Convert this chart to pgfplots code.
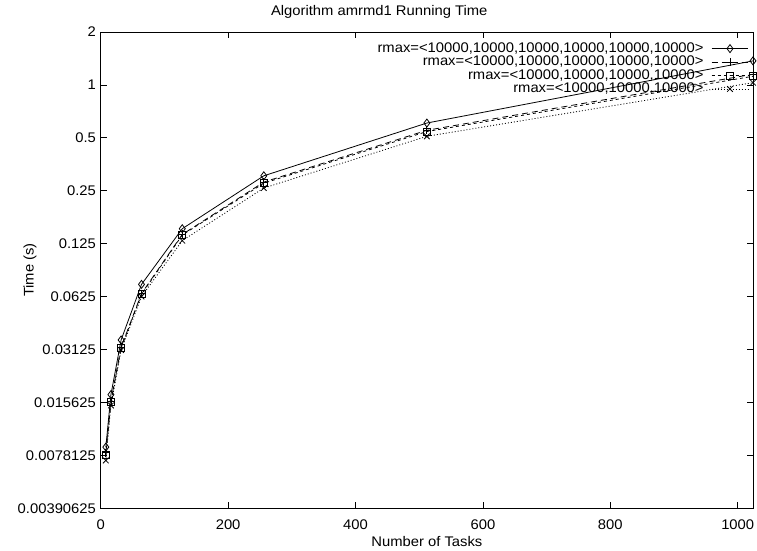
\documentclass[border=0pt]{standalone}
\usepackage{pgfplots}
\pgfplotsset{compat=1.18}
\usepackage{fontspec}
\setmainfont{Liberation Sans}[FakeStretch=1.06]
\begin{document}
\fontsize{14}{16}\selectfont
\begin{tikzpicture}
\begin{axis}[
  name=ax,
  scale only axis, width=652bp, height=476bp,
  xmin=0, xmax=1024, ymin=0.00390625, ymax=2,
  ymode=log, log basis y=2,
  xtick={0,200,400,600,800,1000},
  ytick={0.00390625,0.0078125,0.015625,0.03125,0.0625,0.125,0.25,0.5,1,2},
  yticklabels={0.00390625,0.0078125,0.015625,0.03125,0.0625,0.125,0.25,0.5,1,2},
  /pgf/number format/assume math mode=true,
  /pgf/number format/1000 sep={},
  tick align=inside, major tick length=6bp, minor tick num=0,
  tick style={black, line width=0.8bp},
  axis line style={line width=1bp},
  every tick label/.append style={font=\fontsize{14}{16}\selectfont},
  xticklabel style={yshift=-7bp},
  every axis title shift=0pt,
  title={Algorithm amrmd1 Running Time},
  title style={at={(axis description cs:0.427,1.042)}, anchor=center, yshift=0pt, inner sep=0pt},
  xlabel={Number of Tasks},
  xlabel style={at={(axis description cs:0.5,-0.0693)}, anchor=center, inner sep=0pt},
  ylabel={Time (s)},
  ylabel style={at={(axis description cs:-0.1084,0.5)}, anchor=center, inner sep=0pt},
  legend plot pos=right,
  legend cell align=right,
  legend style={at={(axis description cs:1,1)}, anchor=north east, draw=none, fill=none,
    xshift=-1bp, yshift=-7bp, row sep=-1.4bp, column sep=6bp, nodes={inner sep=1.5bp},
    font=\fontsize{14}{16}\selectfont},
  legend image code/.code={\draw[mark repeat=2,mark phase=2,#1] plot coordinates {(0cm,0cm) (0.65cm,0cm) (1.3cm,0cm)};},
  every axis plot/.append style={line width=0.8bp, black, mark size=4bp, mark options={solid, fill=white}},
]
\addplot[solid, mark=diamond] coordinates {(8,0.0087) (16,0.0173) (32,0.0354) (64,0.0733) (128,0.152) (256,0.304) (512,0.607) (1024,1.37)};
\addlegendentry{rmax=<10000,10000,10000,10000,10000,10000>}
\addplot[dash pattern=on 6bp off 4bp, mark=+] coordinates {(8,0.0081) (16,0.0159) (32,0.0322) (64,0.0650) (128,0.141) (256,0.280) (512,0.552) (1024,1.15)};
\addlegendentry{rmax=<10000,10000,10000,10000,10000>}
\addplot[dash pattern=on 3bp off 3bp, mark=square, mark size=3.5bp] coordinates {(8,0.0079) (16,0.0157) (32,0.0320) (64,0.0643) (128,0.140) (256,0.276) (512,0.543) (1024,1.12)};
\addlegendentry{rmax=<10000,10000,10000,10000>}
\addplot[dash pattern=on 1bp off 2bp, mark=x] coordinates {(8,0.0073) (16,0.0150) (32,0.0310) (64,0.0625) (128,0.130) (256,0.259) (512,0.51) (1024,1.03)};
\addlegendentry{rmax=<10000,10000,10000>}
\end{axis}
\pgfresetboundingbox
\path ([xshift=-100.7bp,yshift=-42bp]ax.south west) rectangle ([xshift=4bp,yshift=32bp]ax.north east);
\end{tikzpicture}
\end{document}
